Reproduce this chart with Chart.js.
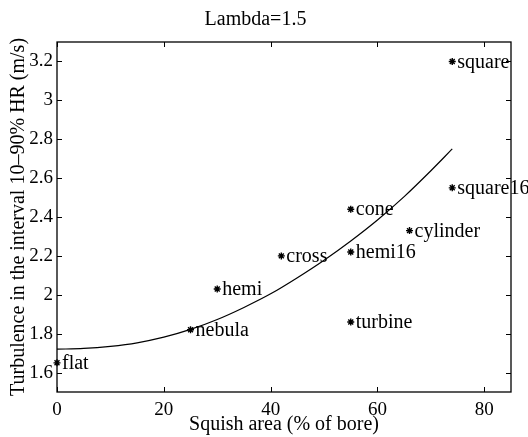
<!DOCTYPE html>
<html><head><meta charset="utf-8">
<script src="https://cdn.jsdelivr.net/npm/chart.js@4.4.1/dist/chart.umd.min.js"></script>
<style>html,body{margin:0;padding:0;background:#fff}#wrap{width:528px;height:437px}</style>
</head><body><div id="wrap"><canvas id="c" width="528" height="437"></canvas></div>
<script>
const engineNames = ['flat','nebula','hemi','cross','hemi16','cone','turbine','cylinder','square16','square'];
const squishArea  = [0, 25, 30, 42, 55, 55, 55, 66, 74, 74];
const turbulence  = [1.65, 1.82, 2.03, 2.20, 2.22, 2.44, 1.86, 2.33, 2.55, 3.20];
const fitX = [0, 5, 10, 15, 20, 25, 30, 35, 40, 45, 50, 55, 60, 65, 70, 74];
const fitY = [1.720, 1.724, 1.735, 1.753, 1.782, 1.822, 1.873, 1.935, 2.005, 2.088, 2.178, 2.277, 2.385, 2.505, 2.638, 2.750];
const xTicks = [0, 20, 40, 60, 80];
const yTicks = [1.6, 1.8, 2, 2.2, 2.4, 2.6, 2.8, 3, 3.2];
const chartTitle = 'Lambda=1.5';
const xTitle = 'Squish area (% of bore)';
const yTitle = 'Turbulence in the interval 10\u201390% HR (m/s)';

const SERIF = '"Liberation Serif", "Times New Roman", serif';

const boxTicks = {
  id: 'boxTicks',
  afterDraw(chart) {
    const {ctx, chartArea: a, scales: {x, y}} = chart;
    ctx.save();
    ctx.strokeStyle = '#000';
    ctx.lineWidth = 1.3;
    ctx.strokeRect(a.left, a.top, a.right - a.left, a.bottom - a.top);
    ctx.lineWidth = 1;
    ctx.beginPath();
    xTicks.forEach(v => {
      const p = Math.round(x.getPixelForValue(v)) + 0.5;
      ctx.moveTo(p, a.bottom); ctx.lineTo(p, a.bottom - 5);
      ctx.moveTo(p, a.top); ctx.lineTo(p, a.top + 5);
    });
    yTicks.forEach(v => {
      const p = Math.round(y.getPixelForValue(v)) + 0.5;
      ctx.moveTo(a.left, p); ctx.lineTo(a.left + 5, p);
      ctx.moveTo(a.right, p); ctx.lineTo(a.right - 5, p);
    });
    ctx.stroke();
    ctx.restore();
  }
};

const pointLabels = {
  id: 'pointLabels',
  afterDatasetsDraw(chart) {
    const {ctx} = chart;
    const meta = chart.getDatasetMeta(1);
    ctx.save();
    ctx.fillStyle = '#000';
    ctx.font = '20px ' + SERIF;
    ctx.textAlign = 'left';
    ctx.textBaseline = 'middle';
    meta.data.forEach((pt, i) => {
      ctx.fillText(engineNames[i], pt.x + 5, pt.y + 1);
    });
    ctx.restore();
  }
};

new Chart(document.getElementById('c'), {
  type: 'scatter',
  data: {
    datasets: [
      {
        label: 'fit',
        data: fitX.map((v, i) => ({x: v, y: fitY[i]})),
        showLine: true,
        borderColor: '#000',
        borderWidth: 1.2,
        pointRadius: 0,
        cubicInterpolationMode: 'monotone',
        clip: false
      },
      {
        label: 'engines',
        data: squishArea.map((v, i) => ({x: v, y: turbulence[i]})),
        showLine: false,
        pointStyle: 'star',
        pointRadius: 3.5,
        borderColor: '#000',
        backgroundColor: '#000',
        pointBorderWidth: 1.4,
        clip: false
      }
    ]
  },
  options: {
    responsive: false,
    animation: false,
    devicePixelRatio: 1,
    layout: {padding: {left: 0, right: 17, top: 0, bottom: 0}},
    plugins: {
      legend: {display: false},
      tooltip: {enabled: false},
      title: {
        display: true,
        text: chartTitle,
        color: '#000',
        font: {family: SERIF, size: 20, weight: 'normal', lineHeight: 1.2},
        padding: {top: 8, bottom: 10}
      }
    },
    scales: {
      x: {
        type: 'linear',
        min: 0, max: 85,
        afterBuildTicks: s => { s.ticks = xTicks.map(v => ({value: v})); },
        afterFit: s => { s.height = 45; },
        grid: {display: false, drawTicks: false},
        border: {display: false},
        ticks: {color: '#000', padding: 7, font: {family: SERIF, size: 19}, callback: v => String(v), maxRotation: 0},
        title: {display: true, text: xTitle, color: '#000', font: {family: SERIF, size: 20}, padding: {top: 0, bottom: 0}}
      },
      y: {
        type: 'linear',
        min: 1.5, max: 3.3,
        afterBuildTicks: s => { s.ticks = yTicks.map(v => ({value: v})); },
        afterFit: s => { s.width = 57; },
        grid: {display: false, drawTicks: false},
        border: {display: false},
        ticks: {color: '#000', padding: 4, font: {family: SERIF, size: 19}, callback: v => String(v)},
        title: {display: true, text: yTitle, color: '#000', font: {family: SERIF, size: 20}, padding: {top: 7, bottom: 0}}
      }
    }
  },
  plugins: [boxTicks, pointLabels]
});
</script>
</body></html>
